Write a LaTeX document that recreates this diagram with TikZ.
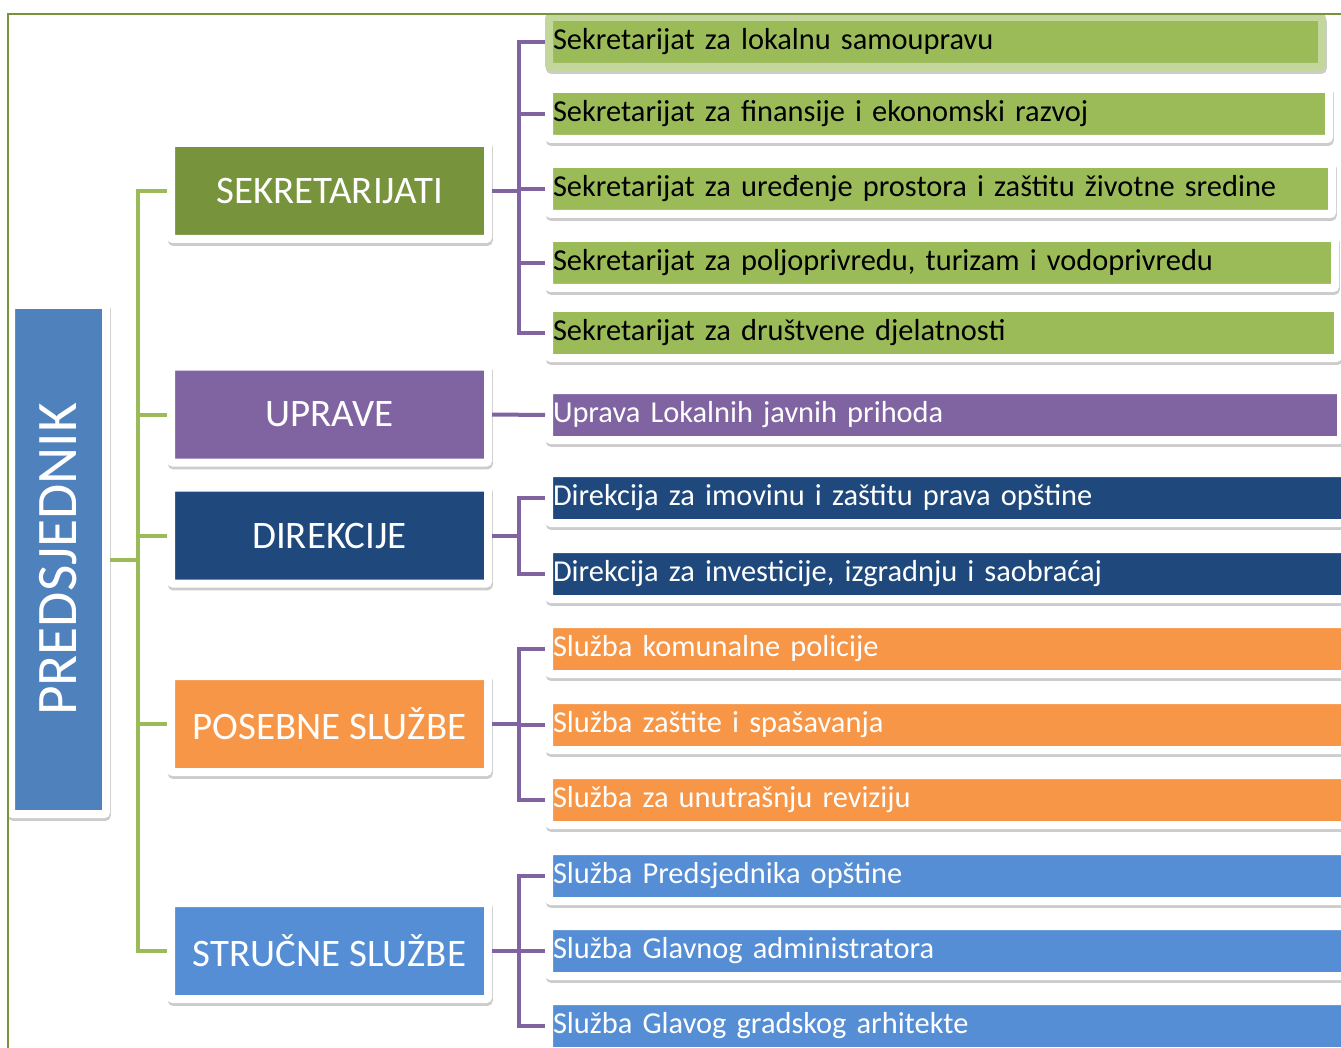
\documentclass[tikz,border=0pt]{standalone}
\usepackage{fontspec}
\setmainfont{Carlito}
\usepackage{tikz}
\usetikzlibrary{shadows}

\definecolor{oliveG}{HTML}{77933C}
\definecolor{lightG}{HTML}{9BBB59}
\definecolor{paleG}{HTML}{C3D69B}
\definecolor{violetP}{HTML}{8064A2}
\definecolor{navyB}{HTML}{1F497D}
\definecolor{orangeO}{HTML}{F79646}
\definecolor{skyB}{HTML}{558ED5}
\definecolor{steelB}{HTML}{4F81BD}

\tikzset{
	framed/.style={rectangle,draw=white,line width=6pt,rounded corners=1.5pt,
		general shadow={fill=black,draw=black,opacity=.2,shadow xshift=.6pt,shadow yshift=-2.2pt}},
	catbox/.style={framed,fill=#1,text=white,minimum width=237.75pt,minimum height=72pt,
		font=\fontsize{29.2}{31}\selectfont},
	unitbox/.style={framed,fill=#1,anchor=west,minimum height=37.5pt,inner xsep=3pt,inner ysep=0pt,
		align=left,font=\fontsize{22.8}{24}\selectfont},
	gline/.style={lightG,line width=3pt},
	pline/.style={violetP,line width=3pt}
}

\begin{document}
\begin{tikzpicture}[x=0.75pt,y=-0.75pt]
\useasboundingbox (0,0) rectangle (1341,1048);

% President
\node [framed,fill=steelB,text=white,minimum width=71.25pt,minimum height=381.75pt,
	font=\fontsize{43}{45}\selectfont] (pred) at (58.5,559.5) {\rotatebox{90}{PREDSJEDNIK}};

% Groups
\node [catbox=oliveG] (sek) at (329.5,191) {SEKRETARIJATI};
\node [catbox=violetP] (upr) at (329.5,414.5) {UPRAVE};
\node [catbox=navyB] (dir) at (329.5,535.5) {DIREKCIJE};
\node [catbox=orangeO] (pos) at (329.5,724) {POSEBNE SLUŽBE};
\node [catbox=skyB] (str) at (329.5,951) {STRUČNE SLUŽBE};

% Secretariats
\node [unitbox=lightG,draw=paleG,text width=573.75pt] (s1) at (545,42) {Sekretarijat za lokalnu samoupravu};
\node [unitbox=lightG,text width=579pt] (s2) at (545,114) {Sekretarijat za finansije i ekonomski razvoj};
\node [unitbox=lightG,text width=581.25pt] (s3) at (545,189) {Sekretarijat za uređenje prostora i zaštitu životne sredine};
\node [unitbox=lightG,text width=583.5pt] (s4) at (545,263) {Sekretarijat za poljoprivredu, turizam i vodoprivredu};
\node [unitbox=lightG,text width=585.75pt] (s5) at (545,333) {Sekretarijat za društvene djelatnosti};

% Administrations and directorates
\node [unitbox=violetP,text=white,text width=588pt] (u1) at (545,415) {Uprava Lokalnih javnih prihoda};
\node [unitbox=navyB,text=white,text width=597.75pt] (d1) at (545,498) {Direkcija za imovinu i zaštitu prava opštine};
\node [unitbox=navyB,text=white,text width=597.75pt] (d2) at (545,574) {Direkcija za investicije, izgradnju i saobraćaj};

% Services
\node [unitbox=orangeO,text=white,text width=597.75pt] (p1) at (545,649) {Služba komunalne policije};
\node [unitbox=orangeO,text=white,text width=597.75pt] (p2) at (545,725) {Služba zaštite i spašavanja};
\node [unitbox=orangeO,text=white,text width=597.75pt] (p3) at (545,800) {Služba za unutrašnju reviziju};
\node [unitbox=skyB,text=white,text width=597.75pt] (t1) at (545,876) {Služba Predsjednika opštine};
\node [unitbox=skyB,text=white,text width=597.75pt] (t2) at (545,951) {Služba Glavnog administratora};
\node [unitbox=skyB,text=white,text width=597.75pt] (t3) at (545,1026) {Služba Glavog gradskog arhitekte};

% Green tree
\foreach \g in {sek,upr,dir,pos,str}
	\draw [gline] (pred.east) -- ++(28,0) |- (\g.west);

% Purple tree
\foreach \s in {s1,s2,s3,s4,s5}
	\draw [pline] (sek.east) -- ++(27,0) |- (\s.west);
\draw [pline] (upr.east) -- (u1.west);
\foreach \s in {d1,d2}
	\draw [pline] (dir.east) -- ++(27,0) |- (\s.west);
\foreach \s in {p1,p2,p3}
	\draw [pline] (pos.east) -- ++(27,0) |- (\s.west);
\foreach \s in {t1,t2,t3}
	\draw [pline] (str.east) -- ++(27,0) |- (\s.west);

% Outer frame
\draw [oliveG,line width=1.8pt] (8,1060) |- (1350,14);
\end{tikzpicture}
\end{document}
